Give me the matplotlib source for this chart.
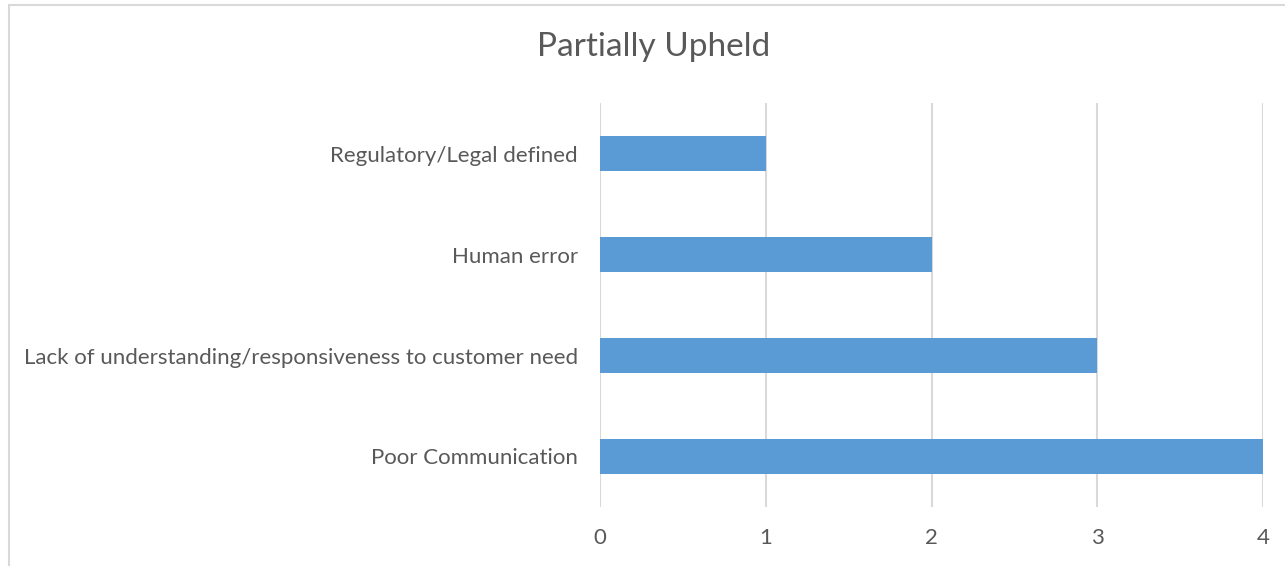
import matplotlib.pyplot as plt
import matplotlib.patches as patches

# data
categories = ['Poor Communication',
              'Lack of understanding/responsiveness to customer need',
              'Human error',
              'Regulatory/Legal defined']
counts = [4, 3, 2, 1]
ticks = [0, 1, 2, 3, 4]

plt.rcParams['font.family'] = ['Lato', 'DejaVu Sans']
txt = '#595959'
grid = '#D9D9D9'

fig = plt.figure(figsize=(12.85, 5.66), dpi=100)
ax = fig.add_axes([600 / 1285, 1 - 507 / 566, 663 / 1285, 404 / 566])

ax.barh(range(len(categories)), counts, height=0.35, color='#5B9BD5', zorder=3)
ax.set_yticks(range(len(categories)))
ax.set_yticklabels(categories)
ax.set_ylim(-0.5, len(categories) - 0.5)
ax.set_xlim(0, 4)
ax.set_xticks(ticks)
ax.xaxis.grid(True, color=grid, linewidth=1.5, zorder=0)
ax.tick_params(axis='both', length=0, colors=txt, labelsize=16)
ax.tick_params(axis='y', pad=16)
ax.tick_params(axis='x', pad=15)
for s in ax.spines.values():
    s.set_visible(False)

fig.text(654 / 1285, 1 - 47 / 566, 'Partially Upheld', ha='center', va='center',
         fontsize=24, color=txt)

# chart border (only top and left show in the crop)
border = patches.Rectangle((8.5 / 1285, -0.1), 1.2, 1 - 4.5 / 566 + 0.1,
                           transform=fig.transFigure, fill=False,
                           edgecolor=grid, linewidth=1.5)
fig.patches.append(border)

fig.savefig('out.png', dpi=100)
